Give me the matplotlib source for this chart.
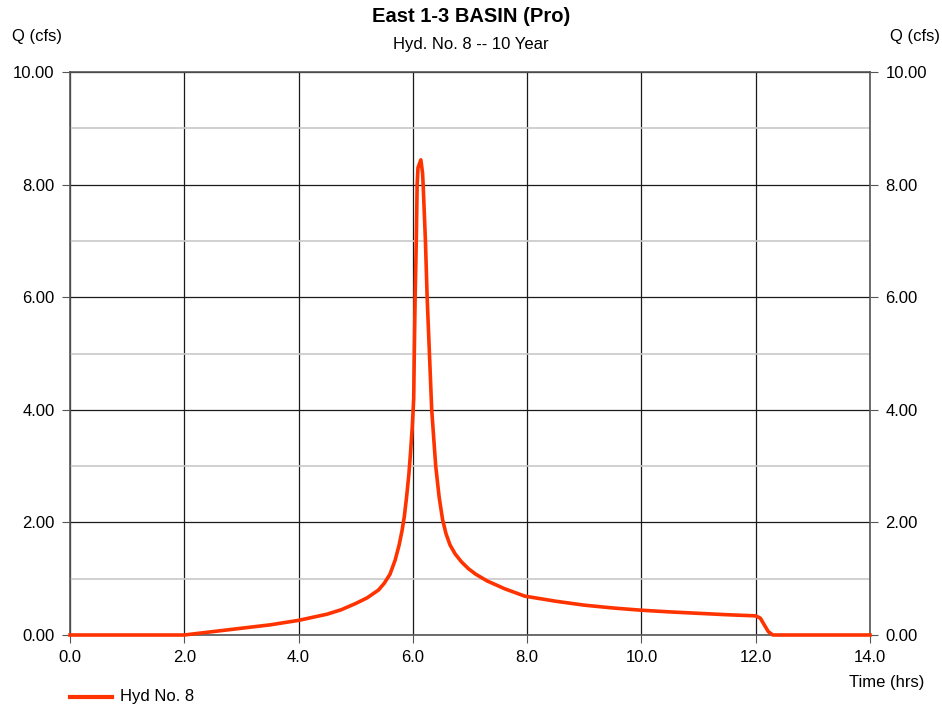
import matplotlib.pyplot as plt
import numpy as np

plt.rcParams['font.family'] = ['Liberation Sans', 'DejaVu Sans']

# hydrograph
time_hrs = [0.0, 2.0, 2.5, 3.0, 3.5, 4.0, 4.5, 4.75, 5.0, 5.2, 5.4, 5.5,
            5.6, 5.69, 5.76, 5.81, 5.85, 5.89, 5.93, 5.96, 5.99, 6.015, 6.025,
            6.04, 6.06, 6.075, 6.09, 6.14, 6.17, 6.18, 6.22, 6.25, 6.29, 6.33,
            6.40, 6.46, 6.52, 6.58, 6.65, 6.74, 6.85, 6.97, 7.1, 7.3, 7.61,
            7.96, 8.5, 9.0, 9.5, 10.0, 10.5, 11.0, 11.5, 12.0, 12.08, 12.15,
            12.22, 12.3, 14.0]
flow_cfs = [0.0, 0.0, 0.06, 0.12, 0.18, 0.26, 0.37, 0.45, 0.56, 0.66, 0.8,
            0.92, 1.08, 1.33, 1.6, 1.85, 2.1, 2.45, 2.85, 3.25, 3.7, 4.2, 5.0,
            6.0, 7.0, 8.0, 8.3, 8.44, 8.2, 8.0, 7.0, 6.0, 5.0, 4.0, 3.0, 2.45,
            2.05, 1.8, 1.6, 1.44, 1.3, 1.18, 1.08, 0.96, 0.82, 0.69, 0.6,
            0.53, 0.48, 0.44, 0.41, 0.385, 0.36, 0.34, 0.3, 0.18, 0.06, 0.0,
            0.0]

x_ticks = np.arange(0, 14.1, 2.0)
y_ticks = np.arange(0, 10.1, 2.0)

fig = plt.figure(figsize=(9.42, 7.09), dpi=100)
ax = fig.add_axes([70 / 942, 1 - 635 / 709, 800 / 942, 563 / 709])

ax.set_xlim(0, 14)
ax.set_ylim(0, 10)
ax.set_xticks(x_ticks)
ax.set_yticks(y_ticks)
ax.set_yticks(np.arange(1, 10, 2.0), minor=True)
ax.set_xticklabels(['%.1f' % v for v in x_ticks])
ax.set_yticklabels(['%.2f' % v for v in y_ticks])

ax.grid(True, which='major', color='#1a1a1a', linewidth=0.9)
ax.grid(True, which='minor', axis='y', color='#c8c8c8', linewidth=1.2)
ax.set_axisbelow(True)
for s in ax.spines.values():
    s.set_color('#555555')
    s.set_linewidth(1.2)
ax.tick_params(axis='both', which='major', length=6, color='#555555',
               labelsize=12, pad=5)
ax.tick_params(axis='y', which='minor', length=0)
ax.tick_params(axis='y', right=True, labelright=True)

ax.plot(time_hrs, flow_cfs, color='#ff3300', linewidth=2.6,
        solid_joinstyle='round', clip_on=False, zorder=3)

fig.text(0.5, 1 - 16 / 709, 'East 1-3 BASIN (Pro)', ha='center', va='center',
         fontsize=14.5, fontweight='bold')
fig.text(0.5, 1 - 44 / 709, 'Hyd. No. 8 -- 10 Year', ha='center', va='center',
         fontsize=12)
fig.text(12 / 942, 1 - 36 / 709, 'Q (cfs)', ha='left', va='center', fontsize=12)
fig.text(940 / 942, 1 - 36 / 709, 'Q (cfs)', ha='right', va='center', fontsize=12)
fig.text(924 / 942, 1 - 683 / 709, 'Time (hrs)', ha='right', va='center',
         fontsize=12)

# legend
fig.add_artist(plt.Line2D([70 / 942, 112 / 942], [1 - 697 / 709] * 2,
                          color='#ff3300', linewidth=3))
fig.text(120 / 942, 1 - 697 / 709, 'Hyd No. 8', ha='left', va='center',
         fontsize=12)

fig.savefig('out.png', dpi=100, facecolor='white')
